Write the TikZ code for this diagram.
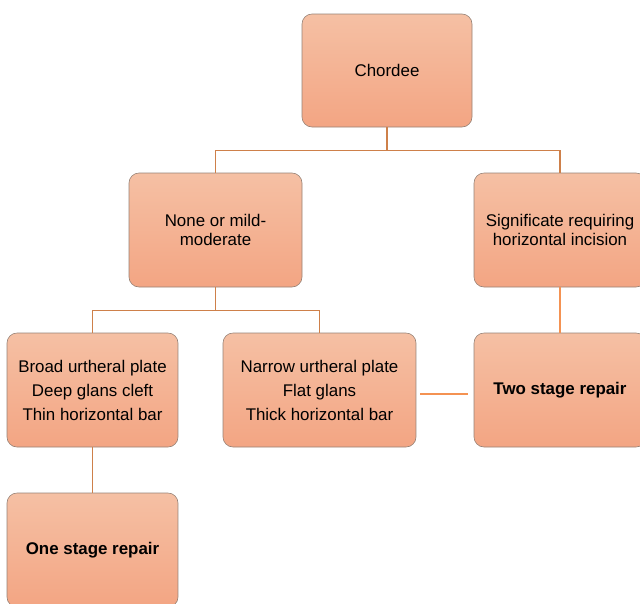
\documentclass[tikz,border=0pt]{standalone}
\usepackage{fontspec}
\setmainfont{Liberation Sans}
\usepackage{tikz}
\usetikzlibrary{positioning}
\usepackage{xcolor}

\definecolor{boxtop}{RGB}{245,192,164}
\definecolor{boxbot}{RGB}{243,165,131}
\definecolor{boxline}{RGB}{150,130,118}
\definecolor{linkdark}{RGB}{206,128,74}
\definecolor{linklight}{RGB}{244,146,82}

\begin{document}
\begin{tikzpicture}[x=1pt,y=-1pt,
    stepbox/.style={draw=boxline, line width=0.6pt, rounded corners=10pt, top color=boxtop, bottom color=boxbot,
        minimum height=114pt, align=center, text=black, font=\fontsize{16.9}{24}\selectfont},
    tight/.style={font=\fontsize{16.9}{19}\selectfont},
    link/.style={linkdark, line width=1.2pt},
    linkb/.style={linklight, line width=1.6pt}
    ]
\useasboundingbox (0,0) rectangle (640,603);

% boxes
\node[stepbox, minimum width=170pt, minimum height=113pt] (chordee) at (387,70.5) {Chordee};
\node[stepbox, tight, minimum width=173pt] (mild) at (215.5,230) {None or mild-\\moderate};
\node[stepbox, tight, minimum width=172pt] (signif) at (560,230) {Significate requiring\\horizontal incision};

\node[stepbox, minimum width=171pt] (broad) at (92.5,390) {Broad urtheral plate\\Deep glans cleft\\Thin horizontal bar};
\node[stepbox, minimum width=193pt] (narrow) at (319.5,390) {Narrow urtheral plate\\Flat glans\\Thick horizontal bar};
\node[stepbox, minimum width=172pt] (twostage) at (560,390) {\bfseries Two stage repair};

\node[stepbox, minimum width=171pt] (onestage) at (92.5,550) {\bfseries One stage repair};

% connectors
\draw[link] (chordee.south) -- ++(0,23.5) coordinate (split1);
\draw[link] (mild.north) |- (split1);
\draw[link] (signif.north) |- (split1);

\draw[link] (mild.south) -- ++(0,23) coordinate (split2);
\draw[link] (broad.north) |- (split2);
\draw[link] (narrow.north) |- (split2);

\draw[linkb] (signif.south) -- (twostage.north);
\draw[link] (broad.south) -- (onestage.north);
\draw[linkb] ([shift={(4,4)}]narrow.east) -- ([shift={(-6,4)}]twostage.west);

\end{tikzpicture}
\end{document}
